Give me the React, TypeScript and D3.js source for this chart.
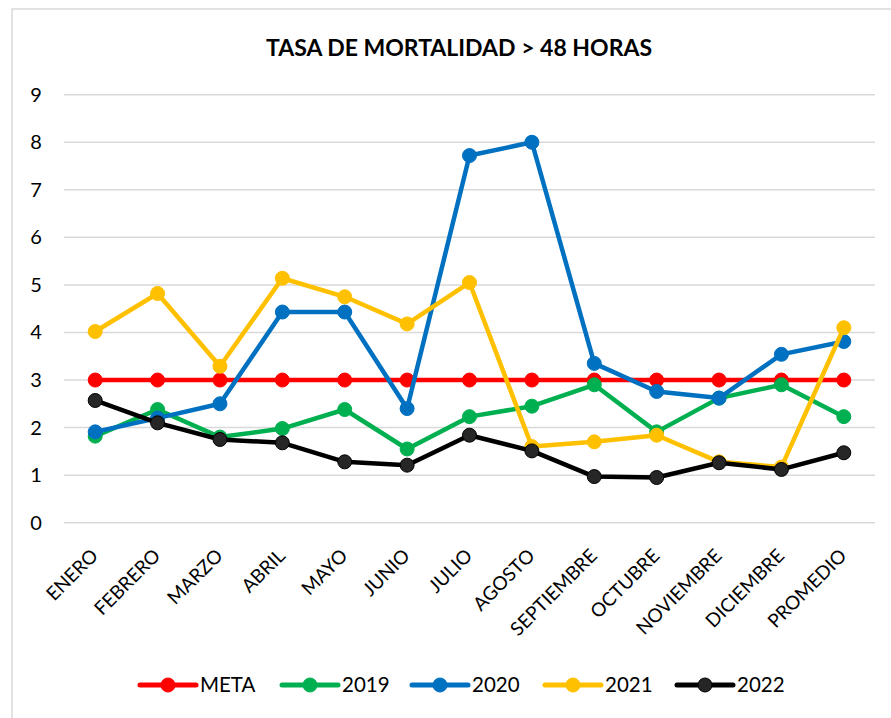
import React from "react";
import * as d3 from "d3";

const categories = ["ENERO","FEBRERO","MARZO","ABRIL","MAYO","JUNIO","JULIO","AGOSTO","SEPTIEMBRE","OCTUBRE","NOVIEMBRE","DICIEMBRE","PROMEDIO"];
const meta = [3,3,3,3,3,3,3,3,3,3,3,3,3];
const s2019 = [1.82,2.38,1.8,1.98,2.38,1.55,2.23,2.45,2.9,1.91,2.62,2.9,2.23];
const s2020 = [1.91,2.2,2.5,4.43,4.43,2.4,7.72,8.0,3.35,2.76,2.62,3.54,3.81];
const s2021 = [4.02,4.82,3.29,5.14,4.75,4.18,5.05,1.6,1.7,1.84,1.28,1.17,4.1];
const s2022 = [2.57,2.1,1.75,1.68,1.28,1.21,1.84,1.51,0.97,0.95,1.26,1.12,1.47];
const yTicks = [0,1,2,3,4,5,6,7,8,9];
const seriesNames = ["META","2019","2020","2021","2022"];
const seriesColors = ["#FF0000","#00B050","#0070C0","#FFC000","#000000"];
const markerFills = ["#FF0000","#00B050","#0070C0","#FFC000","#262626"];
const title = "TASA DE MORTALIDAD > 48 HORAS";

const W = 891, H = 718;
const FONT = "Lato, 'Noto Sans', sans-serif";

export default function App() {
  const allSeries = [meta, s2019, s2020, s2021, s2022];
  const x = d3.scaleBand<string>().domain(categories).range([64, 875]);
  const y = d3.scaleLinear().domain([0, 9]).range([522.7, 94.7]);
  const cx = (c: string) => (x(c) as number) + x.bandwidth() / 2;
  const line = d3.line<number>().x((_, i) => cx(categories[i])).y(d => y(d));

  const legendX = [140, 282, 412, 545, 677];
  const legendY = 685;

  return (
    <svg width={W} height={H} style={{ position: "absolute", left: 0, top: 0, background: "#fff" }}>
      <rect x={12} y={9} width={920} height={760} fill="#fff" stroke="#D9D9D9" strokeWidth={1.5} />
      <text x={459} y={56} textAnchor="middle" fontFamily={FONT} fontWeight="bold" fontSize={23} fill="#000">{title}</text>
      {yTicks.map(t => (
        <g key={t}>
          <line x1={64} x2={875} y1={y(t)} y2={y(t)} stroke="#D9D9D9" strokeWidth={1.5} />
          <text x={36} y={y(t)} dy="0.35em" textAnchor="middle" fontFamily={FONT} fontSize={20} fill="#000">{t}</text>
        </g>
      ))}
      {categories.map(c => (
        <text key={c} transform={`translate(${cx(c) + 4},557) rotate(-45)`} textAnchor="end" fontFamily={FONT} fontSize={19} fill="#000">{c}</text>
      ))}
      {allSeries.map((s, k) => (
        <g key={k}>
          <path d={line(s) || ""} fill="none" stroke={seriesColors[k]} strokeWidth={4.5} strokeLinejoin="round" />
          {s.map((v, i) => (
            <circle key={i} cx={cx(categories[i])} cy={y(v)} r={7} fill={markerFills[k]} stroke={k === 4 ? "#000" : markerFills[k]} strokeWidth={1} />
          ))}
        </g>
      ))}
      {seriesNames.map((n, k) => (
        <g key={n}>
          <line x1={legendX[k]} x2={legendX[k] + 56} y1={legendY} y2={legendY} stroke={seriesColors[k]} strokeWidth={5} strokeLinecap="round" />
          <circle cx={legendX[k] + 28} cy={legendY} r={7} fill={markerFills[k]} stroke={k === 4 ? "#000" : markerFills[k]} strokeWidth={1} />
          <text x={legendX[k] + 60} y={legendY} dy="0.35em" fontFamily={FONT} fontSize={20.5} fill="#000">{n}</text>
        </g>
      ))}
    </svg>
  );
}
